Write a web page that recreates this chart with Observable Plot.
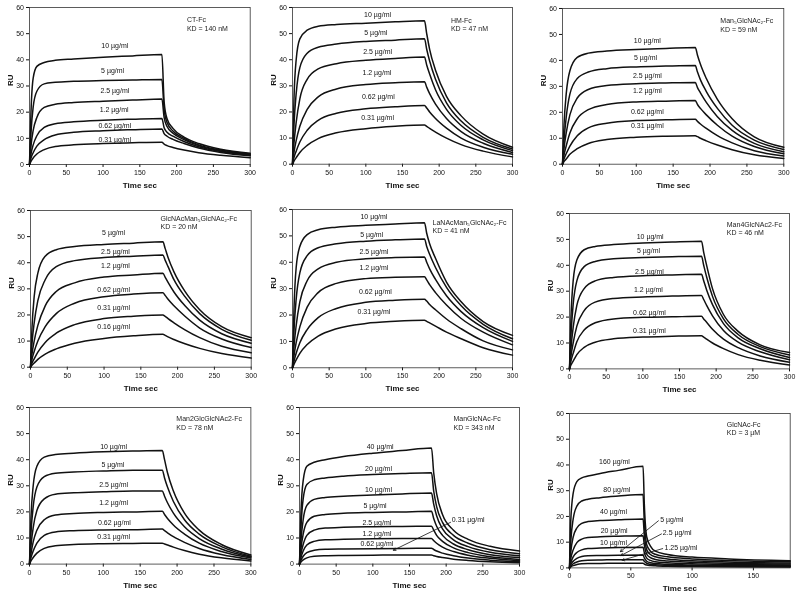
<!DOCTYPE html>
<html><head><meta charset="utf-8">
<script src="https://cdn.jsdelivr.net/npm/d3@7"></script>
<script src="https://cdn.jsdelivr.net/npm/@observablehq/plot@0.6"></script>
<style>
html,body{margin:0;padding:0;background:#fff}
#root{position:relative;width:800px;height:599px;overflow:hidden;font-family:"Liberation Sans",Arial,sans-serif}
#root svg{position:absolute;overflow:visible;will-change:transform;-webkit-font-smoothing:antialiased}
</style></head><body><div id="root"></div>
<script>
// ---- shared axes ----
const timeMain = [0,2,5,10,20,35,60,100,140,180,183,187,195,210,230,260,300];
const timeGlcNAc = [0,1,3,6,10,15,25,40,60,61,63,66,70,80,100,130,180];
const xTicksMain = [0,50,100,150,200,250,300];
const xTicksGlcNAc = [0,50,100,150];
const yTicks = [0,10,20,30,40,50,60];

const conc6 = ["10 µg/ml","5 µg/ml","2.5 µg/ml","1.2 µg/ml","0.62 µg/ml","0.31 µg/ml"];
const concGlcNAcMan = ["5 µg/ml","2.5 µg/ml","1.2 µg/ml","0.62 µg/ml","0.31 µg/ml","0.16 µg/ml"];
const concManGlcNAc = ["40 µg/ml","20 µg/ml","10 µg/ml","5 µg/ml","2.5 µg/ml","1.2 µg/ml","0.62 µg/ml","0.31 µg/ml"];
const concGlcNAc = ["160 µg/ml","80 µg/ml","40 µg/ml","20 µg/ml","10 µg/ml","5 µg/ml","2.5 µg/ml","1.25 µg/ml"];

// ---- RU values (one row per concentration, sampled at the time grid) ----
const ctFcRU = [
  [0,20,33,37.5,39,39.8,40.3,41,41.5,42,24,17.5,13.8,10.5,8,5.8,4.3],
  [0,12,22,28,30.8,31.4,31.8,32.1,32.3,32.5,21,16,12.8,10,7.5,5.5,4],
  [0,7,13,18,21.8,23,23.7,24.2,24.6,25,18,14.5,12,9.5,7.2,5.2,3.8],
  [0,4,7.5,11,14.2,15.6,16.3,16.9,17.3,17.6,14,12.3,10.8,8.8,6.8,5,3.6],
  [0,2.5,4.5,7,9.5,11.3,12.3,12.9,13.3,13.6,11.8,10.8,9.6,8,6.3,4.6,3.3],
  [0,1.2,2.5,4,5.7,6.9,7.5,8,8.3,8.5,7.8,7.2,6.5,5.5,4.5,3.5,2.6]
];
const hmFcRU = [
  [0,25,40,48,51.3,52.8,53.5,54,54.5,54.9,50,44,36,26,18.5,11.5,6.5],
  [0,15,27,37,42.5,44.8,46,47,47.5,48,44,39.5,32.5,23.5,16.5,10.3,5.8],
  [0,8,16,25,32.5,36.5,38.5,39.8,40.5,41,38,34.5,28.5,21,14.8,9.3,5.2],
  [0,4.5,9,14.5,21,25.8,28.8,30.5,31.2,31.6,29.5,27,23,17.5,12.5,8,4.5],
  [0,2.5,5,8.5,13,16.8,19.5,21.2,22,22.5,21.5,20,17.5,13.8,10,6.5,3.8],
  [0,1.2,2.5,4.5,7.2,9.8,12,13.6,14.5,15,14.5,13.7,12.3,10,7.5,5,2.8]
];
const man5RU = [
  [0,15,27,36,41.2,42.8,43.6,44.2,44.6,45,42,38.5,33,25,17.5,10.5,6.5],
  [0,9,18,27,33,35.5,36.8,37.5,37.8,38,35.5,32.5,28,21.5,15,9.3,5.7],
  [0,6,12,19,25.5,28.8,30.3,31,31.3,31.5,29.5,27.5,23.8,18.3,13,8,4.8],
  [0,3.5,7,12,17.5,21,23,24,24.3,24.5,23,21.5,19,15,10.8,6.8,4],
  [0,2,4,7,11,14,15.8,16.8,17.1,17.3,16.5,15.5,13.8,11,8.2,5.2,3.2],
  [0,1,2,3.8,6,8,9.5,10.4,10.8,11,10.6,10,9,7.4,5.6,3.6,2.2]
];
const glcNAcMan5RU = [
  [0,15,27,36,42.5,45,46.2,47,47.5,48,45.5,42,36.5,29,22,15.5,11.3],
  [0,9,17,25.5,33.5,38.5,40.8,42,42.5,43,41,38.5,33.5,27,20.5,14.5,10.3],
  [0,5,10,16,23.5,29,32.3,34.5,35.3,36,34.5,32.5,28.8,23.5,18,12.8,9.2],
  [0,3,6,10,15.5,20.5,24.5,27,28,28.5,27.5,26,23.5,19.5,15,10.8,7.5],
  [0,1.5,3.2,5.8,9.5,13,16.3,18.6,19.5,20,19.5,18.6,17,14.3,11.3,8,5.5],
  [0,0.7,1.6,3,5,7,9.2,11,12,12.6,12.2,11.6,10.6,9,7.2,5.2,3.5]
];
const laNAcMan5RU = [
  [0,22,38,46,50.5,52.3,53.3,54,54.5,55,51,47,41.5,32.5,25,17.5,12.3],
  [0,14,26,36,42.5,45.5,47,48,48.5,48.8,46,43,38,30.5,23.5,16.5,11],
  [0,8,16,25,33,37.5,40,41.3,41.8,42,40,37.5,33.5,27.3,21.3,15.2,10],
  [0,4.5,9.5,15.5,23,28.5,32,33.8,34.3,34.5,33.3,31.5,28.5,23.8,18.7,13.5,8.7],
  [0,2.5,5.5,9.5,14.5,19,22.5,24.8,25.6,26,25.3,24,22,18.5,14.8,10.2,6.8],
  [0,1.3,3,5.5,8.8,12,14.8,16.8,17.6,18,17.6,17,15.8,13.5,11,7.6,4.8]
];
const man4RU = [
  [0,20,34,42,46,47.3,48,48.6,49,49.3,45,40,31,21,14.5,9.3,6.3],
  [0,13,25,34,39.5,41.5,42.5,43,43.3,43.5,40,35.5,28,19.3,13.3,8.6,5.4],
  [0,8,16,24.5,31,34,35.3,36,36.3,36.5,34,30.5,24.8,17.5,12,7.8,4.4],
  [0,5,10,16.5,22.5,25.8,27.2,27.8,28.1,28.3,26.8,24.5,20.5,14.8,10.3,6.6,3.5],
  [0,3,6,10.5,15,17.8,19.3,19.9,20.1,20.3,19.3,18,15.3,11.5,8.2,5,2.6],
  [0,1.5,3,5.5,8.3,10.3,11.6,12.3,12.6,12.8,12.3,11.5,10,7.8,5.5,3.3,1.5]
];
const man2GlcRU = [
  [0,18,30,37.5,41,42,42.5,43,43.3,43.5,40,35,28,19.5,13,7.5,3.5],
  [0,12,22,29.5,33.5,34.8,35.3,35.7,36,36,33,29.5,24,17,11.5,6.7,3],
  [0,7,14,20.5,25,26.8,27.3,27.7,28,28,26,23.5,19.5,14.3,9.8,5.8,2.7],
  [0,4,8.5,13,17,18.8,19.4,19.8,20,20.2,19,17.5,15,11.5,8,4.8,2.3],
  [0,2.5,5,8,11,12.3,12.8,13.1,13.2,13.4,12.8,12,10.5,8.3,6,3.7,1.8],
  [0,1.2,2.5,4.2,6,7,7.5,7.8,7.9,8,7.7,7.3,6.5,5.2,3.8,2.4,1.2]
];
const manGlcNAcRU = [
  [0,20,32,37.5,39,40,41.2,42.5,43.5,44.5,35,27,19,13,9.5,6.8,5],
  [0,14,25,30.5,32.3,33,33.7,34.3,34.7,35,28,22,16,11,8,5.5,4],
  [0,9,17,22.5,24.8,25.5,26,26.5,26.9,27.2,23,18.5,13.5,9.3,6.7,4.5,3.2],
  [0,6,11.5,16,18.3,19,19.5,19.8,20,20.2,17.5,14.5,11,7.7,5.5,3.6,2.5],
  [0,4,7.5,11,13,13.8,14.1,14.3,14.4,14.5,13,11,8.7,6.2,4.4,2.8,1.8],
  [0,2.5,5,7.3,8.7,9.3,9.5,9.7,9.8,9.8,9,8,6.5,4.8,3.4,2.2,1.3],
  [0,1.5,3,4.4,5.3,5.7,5.8,5.9,6,6.1,5.6,5,4.2,3.2,2.3,1.5,0.9],
  [0,0.8,1.6,2.4,3,3.2,3.3,3.4,3.5,3.5,3.2,2.9,2.5,1.9,1.4,0.9,0.5]
];
const glcNAcRU = [
  [0,18,29,33.5,35,35.7,36.7,37.9,39.5,25,12,8.5,6.5,5.2,4.2,3.5,2.8],
  [0,10,19,24,26,26.7,27.3,27.9,28.5,18,9,6.5,5.3,4.3,3.5,2.9,2.4],
  [0,6,12,15.5,17.3,18,18.4,18.7,19,13,7,5.2,4.3,3.5,2.8,2.3,1.9],
  [0,3.5,7,9.8,11.2,11.8,12.1,12.3,12.5,9,5.3,4,3.3,2.7,2.2,1.8,1.5],
  [0,2,4.3,6,7,7.5,7.7,7.9,8,6,3.8,2.9,2.4,2,1.6,1.3,1.1],
  [0,1.2,2.6,3.7,4.4,4.7,4.8,4.9,5,3.9,2.6,2,1.7,1.4,1.1,0.9,0.8],
  [0,0.7,1.6,2.3,2.8,3,3.1,3.15,3.2,2.6,1.8,1.4,1.2,1,0.8,0.6,0.5],
  [0,0.4,0.9,1.3,1.6,1.7,1.75,1.8,1.8,1.5,1.1,0.9,0.8,0.6,0.5,0.4,0.3]
];

// ---- panel titles ----
const names = ["CT-Fc","HM-Fc","Man₅GlcNAc₂-Fc","GlcNAcMan₅GlcNAc₂-Fc","LaNAcMan₅GlcNAc₂-Fc","Man4GlcNAc2-Fc","Man2GlcGlcNAc2-Fc","ManGlcNAc-Fc","GlcNAc-Fc"];
const kds = ["KD = 140 nM","KD = 47 nM","KD = 59 nM","KD = 20 nM","KD = 41 nM","KD = 46 nM","KD = 78 nM","KD = 343 nM","KD = 3 µM"];

// ---- layout (frame boxes in page px, annotation anchors in data units) ----
const panels = [
  {time: timeMain, conc: conc6, ru: ctFcRU, xDomain:[0,300], xTicks:xTicksMain, frame:[29.3,7.3,250,164.3],
   labels:[[116,45.3],[113,35.7],[116,28],[115,21],[116,14.8],[116,9.3]], legendX:214, legendY:[55.2,51.7]},
  {time: timeMain, conc: conc6, ru: hmFcRU, xDomain:[0,300], xTicks:xTicksMain, frame:[291.7,7.3,511.7,164],
   labels:[[116,57.4],[113.6,50.4],[116,42.9],[115,35],[117,25.7],[116,17.9]], legendX:216, legendY:[55.1,52]},
  {time: timeMain, conc: conc6, ru: man5RU, xDomain:[0,300], xTicks:xTicksMain, frame:[562,8.3,783.3,164],
   labels:[[115,47.5],[112.5,41.1],[115,34],[115,28.3],[115,20.4],[115,14.8]], legendX:214, legendY:[55.2,52]},
  {time: timeMain, conc: concGlcNAcMan, ru: glcNAcMan5RU, xDomain:[0,300], xTicks:xTicksMain, frame:[30,210,250.7,366.7],
   labels:[[113,51.4],[115.5,44.3],[115.5,38.9],[113,29.7],[113,22.7],[113,15.3]], legendX:176.7, legendY:[56.8,53.6]},
  {time: timeMain, conc: conc6, ru: laNAcMan5RU, xDomain:[0,300], xTicks:xTicksMain, frame:[291.7,209,511.7,367.3],
   labels:[[111,57.1],[108,50.5],[111,43.8],[111,38.1],[113,28.9],[111,21.1]], legendX:191, legendY:[55,52]},
  {time: timeMain, conc: conc6, ru: man4RU, xDomain:[0,300], xTicks:xTicksMain, frame:[569.3,213.3,789.3,368.7],
   labels:[[110,51],[107.7,45.5],[109,37.7],[107.7,30.4],[109,21.8],[109,14.9]], legendX:214.5, legendY:[55.5,52.6]},
  {time: timeMain, conc: conc6, ru: man2GlcRU, xDomain:[0,300], xTicks:xTicksMain, frame:[29.3,406.7,250.7,563.3],
   labels:[[114,44.9],[113,38],[114,30.3],[114,23.4],[115,16],[114,10.3]], legendX:199, legendY:[55.5,52.1]},
  {time: timeMain, conc: concManGlcNAc, ru: manGlcNAcRU, xDomain:[0,300], xTicks:xTicksMain, frame:[299.3,406.7,519.3,563.3],
   labels:[[110,44.9],[107.7,36.6],[107.7,28.3],[103,22.3],[105.5,16],[105.5,11.7],[105.5,7.7],[207.7,16.9,"start"]],
   legendX:210, legendY:[55.5,52.1], arrows:[[206,16,128,5.3]]},
  {time: timeGlcNAc, conc: concGlcNAc, ru: glcNAcRU, xDomain:[0,180], xTicks:xTicksGlcNAc, frame:[569.3,413.3,790,567.7],
   labels:[[36.7,41.2],[38.6,30.5],[35.9,21.8],[36.4,14.4],[35.9,9.8],[74,18.9,"start"],[76.1,13.7,"start"],[77.5,7.8,"start"]],
   legendX:128.3, legendY:[55.5,52.6], arrows:[[72.5,18.3,41.5,6.3],[75,13.2,42,4.8],[76,7.5,43,3]]}
];

const FONT = '"Liberation Sans", Arial, sans-serif';
const root = document.getElementById("root");

panels.forEach((p, idx) => {
  const ml = 32, mr = 8, mt = 6, mb = 32;
  const fw = p.frame[2] - p.frame[0], fh = p.frame[3] - p.frame[1];
  const rows = [];
  p.ru.forEach((vals, k) => vals.forEach((v, i) => rows.push({conc: p.conc[k], t: p.time[i], ru: v})));
  const labelRows = p.conc.map((c, k) => ({text: c, x: p.labels[k][0], y: p.labels[k][1], anchor: p.labels[k][2] || "middle"}));
  const legendRows = [names[idx], kds[idx]].map((s, i) => ({text: s, x: p.legendX, y: p.legendY[i]}));
  const arrowRows = (p.arrows || []).map(a => ({x1: a[0], y1: a[1], x2: a[2], y2: a[3]}));
  const chart = Plot.plot({
    width: fw + ml + mr, height: fh + mt + mb,
    marginLeft: ml, marginRight: mr, marginTop: mt, marginBottom: mb,
    style: {fontFamily: FONT, fontSize: "7px", color: "#111", background: "transparent"},
    x: {domain: p.xDomain, ticks: p.xTicks, tickSize: 3, tickPadding: 2.5, label: null},
    y: {domain: [0, 60], ticks: yTicks, tickSize: 3, tickPadding: 2.5, label: null},
    marks: [
      Plot.frame({stroke: "#333", strokeWidth: 0.8}),
      Plot.line(rows, {x: "t", y: "ru", z: "conc", curve: "monotone-x", stroke: "#111", strokeWidth: 1.5}),
      Plot.text(labelRows.filter(d => d.anchor === "middle"), {x: "x", y: "y", text: "text", fontSize: 7, fill: "#111"}),
      Plot.text(labelRows.filter(d => d.anchor === "start"), {x: "x", y: "y", text: "text", textAnchor: "start", fontSize: 7, fill: "#111"}),
      Plot.text(legendRows, {x: "x", y: "y", text: "text", textAnchor: "start", fontSize: 7, fill: "#222"}),
      Plot.arrow(arrowRows, {x1: "x1", y1: "y1", x2: "x2", y2: "y2", stroke: "#111", strokeWidth: 0.8, headLength: 5}),
      Plot.text(["RU"], {text: d => d, frameAnchor: "left", dx: -19, rotate: -90, fontWeight: "bold", fontSize: 8, fill: "#111"}),
      Plot.text(["Time sec"], {text: d => d, frameAnchor: "bottom", dy: 23.5, fontWeight: "bold", fontSize: 8, fill: "#111"})
    ]
  });
  chart.style.left = (p.frame[0] - ml) + "px";
  chart.style.top = (p.frame[1] - mt) + "px";
  root.appendChild(chart);
});
</script>
</body></html>
